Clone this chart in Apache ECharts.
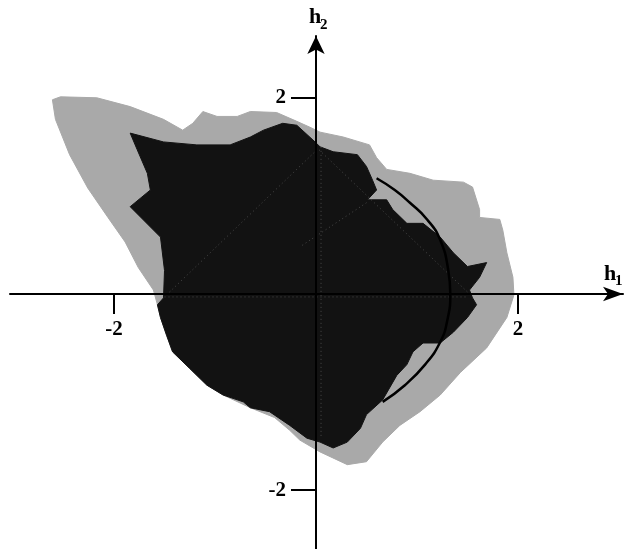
<!DOCTYPE html>
<html>
<head>
<meta charset="utf-8">
<script src="https://cdn.jsdelivr.net/npm/echarts@6/dist/echarts.min.js"></script>
<style>
html,body{margin:0;padding:0;background:#fff;}
#chart{width:631px;height:549px;}
</style>
</head>
<body>
<div id="chart"></div>
<script>
// Outer (light, halftone) region boundary, [h1, h2]
var lightRegion = [
  [-2.61,1.98],[-2.53,2.01],[-2.17,2.00],[-1.84,1.91],[-1.51,1.78],[-1.32,1.67],
  [-1.22,1.74],[-1.12,1.86],[-0.98,1.81],[-0.78,1.81],[-0.65,1.86],[-0.39,1.85],
  [-0.19,1.76],[-0.06,1.70],[0.04,1.65],[0.27,1.60],[0.53,1.52],[0.60,1.39],
  [0.70,1.27],[0.93,1.23],[1.16,1.16],[1.46,1.14],[1.55,1.09],[1.62,0.86],
  [1.62,0.78],[1.82,0.76],[1.85,0.65],[1.89,0.42],[1.95,0.17],[1.96,-0.01],
  [1.89,-0.24],[1.69,-0.55],[1.43,-0.80],[1.23,-1.03],[1.03,-1.20],[0.83,-1.34],
  [0.66,-1.51],[0.50,-1.71],[0.31,-1.74],[0.04,-1.61],[-0.16,-1.49],[-0.26,-1.39],
  [-0.41,-1.26],[-0.65,-1.16],[-0.92,-1.03],[-1.08,-0.93],[-1.25,-0.76],[-1.42,-0.59],
  [-1.48,-0.42],[-1.54,-0.24],[-1.57,-0.11],[-1.61,0.04],[-1.76,0.27],[-1.89,0.53],
  [-2.06,0.78],[-2.26,1.08],[-2.44,1.42],[-2.58,1.78]
];
// Inner (dark) region boundary, [h1, h2]
var darkRegion = [
  [-1.84,1.64],[-1.51,1.55],[-1.18,1.52],[-0.85,1.52],[-0.65,1.60],[-0.52,1.67],
  [-0.33,1.74],[-0.19,1.72],[-0.03,1.57],[0.04,1.50],[0.17,1.45],[0.41,1.42],
  [0.50,1.30],[0.56,1.16],[0.60,1.06],[0.51,0.96],[0.70,0.96],[0.76,0.86],
  [0.90,0.72],[1.06,0.72],[1.23,0.58],[1.36,0.42],[1.50,0.28],[1.69,0.32],
  [1.62,0.17],[1.52,0.04],[1.55,-0.04],[1.59,-0.11],[1.50,-0.24],[1.36,-0.39],
  [1.23,-0.50],[1.06,-0.50],[0.96,-0.59],[0.90,-0.72],[0.80,-0.83],[0.66,-1.08],
  [0.50,-1.23],[0.44,-1.37],[0.31,-1.51],[0.17,-1.57],[0.04,-1.51],[-0.09,-1.47],
  [-0.26,-1.34],[-0.46,-1.20],[-0.65,-1.16],[-0.72,-1.10],[-0.92,-1.03],[-1.08,-0.93],
  [-1.25,-0.76],[-1.42,-0.59],[-1.48,-0.42],[-1.54,-0.24],[-1.57,-0.11],[-1.51,-0.04],
  [-1.50,0.24],[-1.54,0.58],[-1.84,0.89],[-1.64,1.06],[-1.67,1.23],[-1.77,1.47]
];
// Thin curve on the right, [h1, h2]
var arcCurve = [
  [0.60,1.18],[0.78,1.06],[0.93,0.93],[1.10,0.76],[1.23,0.55],[1.31,0.24],
  [1.33,0.00],[1.30,-0.27],[1.23,-0.49],[1.08,-0.72],[0.88,-0.93],[0.66,-1.10]
];
// faint light traces visible inside the dark region
var traceDiamond = [[-1.45,0.02],[0.02,1.48],[1.50,0.02]];
var traceInner = [[0.50,0.93],[-0.16,0.48]];
var traceVertical = [[0.05,1.50],[0.05,-1.45]];
var traceHorizontal = [[-1.50,-0.03],[1.50,-0.03]];
var xTicks = [-2, 2];
var yTicks = [-2, 2];

var chart = echarts.init(document.getElementById('chart'), null, {renderer:'canvas'});

function polygonSeries(name, pts, color, z) {
  return {
    name: name, type: 'custom', z: z, clip: false, silent: true,
    data: [0],
    renderItem: function (params, api) {
      var points = pts.map(function (p) { return api.coord(p); });
      return { type: 'polygon', shape: { points: points }, style: { fill: color, stroke: color, lineWidth: 1 } };
    }
  };
}
function traceSeries(pts) {
  return { type: 'line', z: 2.5, data: pts, showSymbol: false, silent: true,
    lineStyle: { color: '#4a4a4a', width: 1, type: [1, 3] } };
}

var fontFam = '"Liberation Serif", "DejaVu Serif", serif';
var W = 631, H = 549;
var gridL = 10, gridR = 8, gridT = 36, gridB = 0;
var xMin = -3.03, xMax = 3.04, yMin = -2.60, yMax = 2.63;
// place the axes through the origin via offsets
var xOff = -((H - gridT - gridB) * (0 - yMin) / (yMax - yMin));
var yOff = -((W - gridL - gridR) * (0 - xMin) / (xMax - xMin));

function fmt(v) { return v < 0 ? '-' + Math.abs(v) : String(v); }

chart.setOption({
  animation: false,
  backgroundColor: '#ffffff',
  grid: { left: gridL, right: gridR, top: gridT, bottom: gridB, outerBoundsMode: 'none', containLabel: false },
  xAxis: {
    type: 'value', min: xMin, max: xMax, position: 'bottom', offset: xOff,
    splitLine: { show: false },
    axisLine: { onZero: false, lineStyle: { color: '#000', width: 2 }, symbol: ['none', 'arrow'], symbolSize: [11, 20] },
    axisTick: { show: true, length: 20, lineStyle: { color: '#000', width: 2 }, customValues: xTicks },
    axisLabel: { show: true, customValues: xTicks, margin: 25, color: '#000', fontSize: 21, fontWeight: 'bold', fontFamily: fontFam, formatter: fmt },
    z: 10
  },
  yAxis: {
    type: 'value', min: yMin, max: yMax, position: 'left', offset: yOff,
    splitLine: { show: false },
    axisLine: { onZero: false, lineStyle: { color: '#000', width: 2 }, symbol: ['none', 'arrow'], symbolSize: [13, 18] },
    axisTick: { show: true, length: 25, lineStyle: { color: '#000', width: 2 }, customValues: yTicks },
    axisLabel: { show: true, customValues: yTicks, margin: 30, color: '#000', fontSize: 21, fontWeight: 'bold', fontFamily: fontFam, formatter: fmt },
    z: 10
  },
  series: [
    polygonSeries('outer', lightRegion, '#a9a9a9', 1),
    polygonSeries('inner', darkRegion, '#121212', 2),
    traceSeries(traceDiamond),
    traceSeries(traceInner),
    traceSeries(traceVertical),
    traceSeries(traceHorizontal),
    {
      name: 'curve', type: 'line', z: 3, data: arcCurve, smooth: true, showSymbol: false, silent: true,
      lineStyle: { color: '#000', width: 2.5 }
    }
  ],
  graphic: [
    { type: 'text', left: 309, top: 6, z: 20, style: { text: 'h', fontSize: 22, fontWeight: 'bold', fontFamily: fontFam, fill: '#000' } },
    { type: 'text', left: 320, top: 18, z: 20, style: { text: '2', fontSize: 15, fontWeight: 'bold', fontFamily: fontFam, fill: '#000' } },
    { type: 'text', left: 604, top: 263, z: 20, style: { text: 'h', fontSize: 22, fontWeight: 'bold', fontFamily: fontFam, fill: '#000' } },
    { type: 'text', left: 615, top: 274, z: 20, style: { text: '1', fontSize: 15, fontWeight: 'bold', fontFamily: fontFam, fill: '#000' } }
  ]
});
</script>
</body>
</html>
